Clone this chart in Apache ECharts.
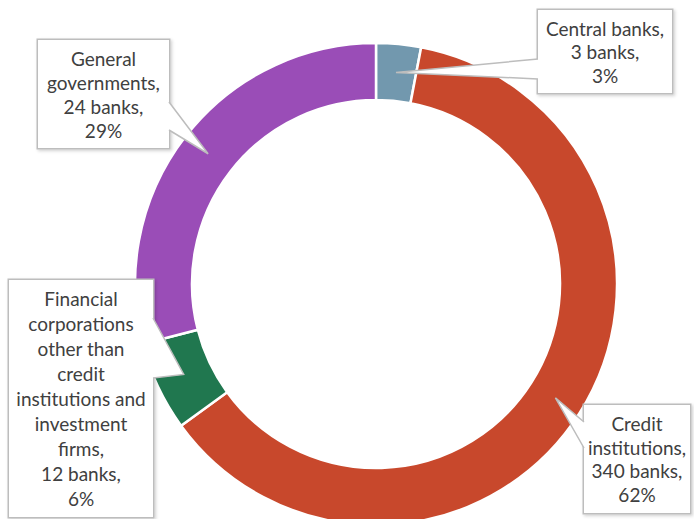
<!DOCTYPE html>
<html>
<head>
<meta charset="utf-8">
<script src="https://cdn.jsdelivr.net/npm/echarts@6/dist/echarts.min.js"></script>
<style>
  html, body { margin: 0; padding: 0; background: #ffffff; }
  #chart { width: 694px; height: 519px; }
</style>
</head>
<body>
<div id="chart"></div>
<script>
// Banks by sector: number of banks and share of the total
const sectors = [
  'Central banks',
  'Credit\ninstitutions',
  'Financial\ncorporations\nother than\ncredit\ninstitutions and\ninvestment\nfirms',
  'General\ngovernments'
];
const bankCounts = [3, 340, 12, 24];
const shares = [3, 62, 6, 29];
const sectorColors = ['#7298AE', '#C8482C', '#20774F', '#9A4DB7'];

// Callout boxes: centre, size, line height and the span of the box edge the pointer leaves from
const callouts = [
  { x: 605,   y: 51.5,  w: 134, h: 83,  lh: 23.5, side: 'left',  b0: 59,  b1: 79 },
  { x: 637,   y: 459,   w: 106, h: 108, lh: 23.7, side: 'left',  b0: 422, b1: 448 },
  { x: 81,    y: 398.5, w: 144, h: 237, lh: 25,   side: 'right', b0: 318, b1: 378 },
  { x: 103.5, y: 94,    w: 131, h: 108, lh: 24,   side: 'right', b0: 102, b1: 130 }
];

const PIE_CENTER = [376, 284];
const PIE_RADIUS = [184, 241];
const BORDER_GREY = '#BDBDBD';

function labelText(i) {
  return sectors[i] + ',\n' + bankCounts[i] + ' banks,\n' + shares[i] + '%';
}

const seriesData = sectors.map(function (name, i) {
  const c = callouts[i];
  const lines = labelText(i).split('\n').length;
  const padV = Math.max(0, (c.h - lines * c.lh) / 2);
  return {
    name: name,
    value: shares[i],
    itemStyle: { color: sectorColors[i] },
    label: {
      width: c.w - 8,
      lineHeight: c.lh,
      padding: [padV, 4, padV, 4]
    }
  };
});

const chart = echarts.init(document.getElementById('chart'), null, { renderer: 'svg' });

chart.setOption({
  animation: false,
  backgroundColor: '#ffffff',
  series: [{
    type: 'pie',
    center: PIE_CENTER,
    radius: PIE_RADIUS,
    startAngle: 90,
    clockwise: true,
    avoidLabelOverlap: false,
    silent: true,
    itemStyle: { borderColor: '#ffffff', borderWidth: 2.5 },
    emphasis: { disabled: true },
    label: {
      show: true,
      position: 'inside',
      overflow: 'none',
      formatter: function (p) { return labelText(p.dataIndex); },
      fontFamily: 'Lato, "Open Sans", sans-serif',
      fontSize: 19,
      color: '#404040',
      align: 'center',
      backgroundColor: '#ffffff',
      borderColor: BORDER_GREY,
      borderWidth: 1.5,
      shadowColor: 'rgba(0,0,0,0.18)',
      shadowBlur: 3,
      shadowOffsetX: 1.5,
      shadowOffsetY: 1.5
    },
    labelLine: { show: false },
    labelLayout: function (params) {
      const c = callouts[params.dataIndex];
      return { x: c.x, y: c.y, align: 'center', verticalAlign: 'middle' };
    },
    data: seriesData
  }]
});

// Pointer wedges: from the box edge to the middle of each ring segment
function segmentMid(i) {
  let layout = null;
  try {
    layout = chart.getModel().getSeriesByIndex(0).getData().getItemLayout(i);
  } catch (e) { layout = null; }
  if (layout && layout.cx != null) {
    const mid = (layout.startAngle + layout.endAngle) / 2;
    const rm = (layout.r + layout.r0) / 2;
    return [layout.cx + rm * Math.cos(mid), layout.cy + rm * Math.sin(mid)];
  }
  const total = shares.reduce(function (a, b) { return a + b; }, 0);
  let before = 0;
  for (let k = 0; k < i; k++) before += shares[k];
  const ang = -Math.PI / 2 + (before + shares[i] / 2) / total * Math.PI * 2;
  const rm = (PIE_RADIUS[0] + PIE_RADIUS[1]) / 2;
  return [PIE_CENTER[0] + rm * Math.cos(ang), PIE_CENTER[1] + rm * Math.sin(ang)];
}

const wedges = [];
callouts.forEach(function (c, i) {
  const tip = segmentMid(i);
  const bx = c.side === 'left' ? c.x - c.w / 2 : c.x + c.w / 2;
  const inward = c.side === 'left' ? 1 : -1;
  wedges.push({
    type: 'polygon',
    z: 100,
    silent: true,
    shape: { points: [[bx + inward * 2, c.b0 + 0.5], [bx, c.b0], tip, [bx, c.b1], [bx + inward * 2, c.b1 - 0.5]] },
    style: { fill: '#ffffff', stroke: null }
  });
  wedges.push({
    type: 'polyline',
    z: 101,
    silent: true,
    shape: { points: [[bx, c.b0], tip, [bx, c.b1]] },
    style: { stroke: BORDER_GREY, lineWidth: 1.5, fill: null }
  });
});

chart.setOption({ graphic: { elements: wedges } });
</script>
</body>
</html>
